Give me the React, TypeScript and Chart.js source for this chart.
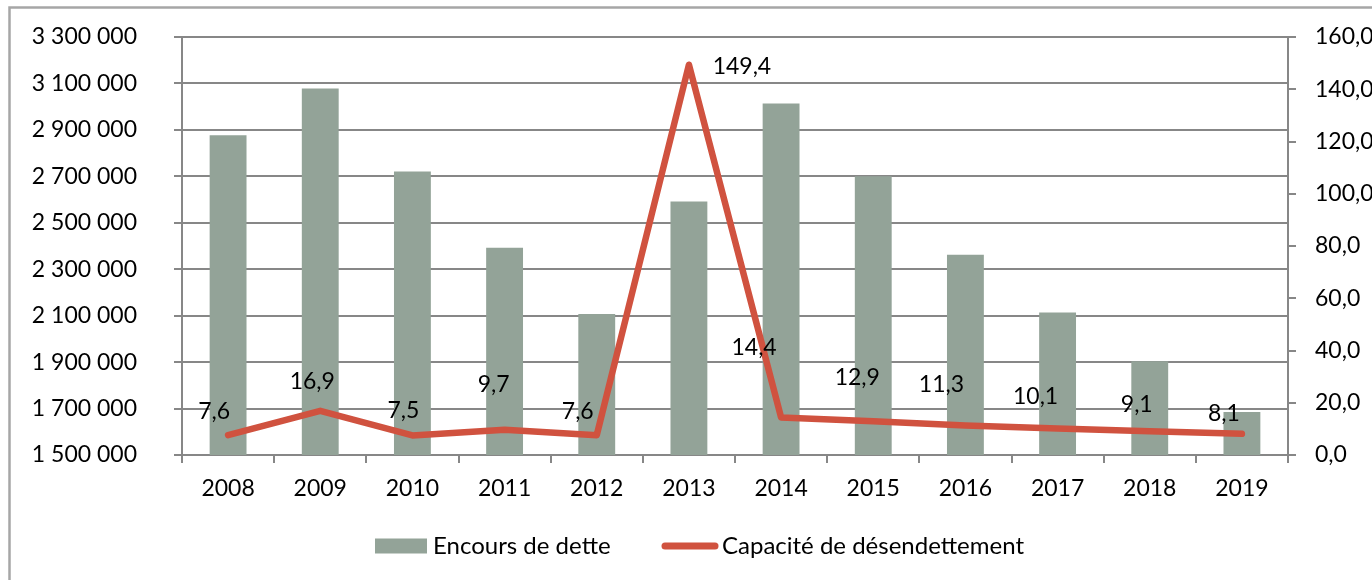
import React, { useEffect, useRef } from "react";
import { Chart, registerables } from "chart.js";

Chart.register(...registerables);

const years = ["2008", "2009", "2010", "2011", "2012", "2013", "2014", "2015", "2016", "2017", "2018", "2019"];
const encoursDette = [2877000, 3078000, 2721000, 2392000, 2107000, 2592000, 3014000, 2700000, 2362000, 2114000, 1904000, 1685000];
const capaciteDesendettement = [7.6, 16.9, 7.5, 9.7, 7.6, 149.4, 14.4, 12.9, 11.3, 10.1, 9.1, 8.1];
const leftAxis = { min: 1500000, max: 3300000, step: 200000 };
const rightAxis = { min: 0, max: 160, step: 20 };
const seriesNames = ["Encours de dette", "Capacité de désendettement"];

// label placement offsets (px) relative to each line point
const labelOffsets: [number, number][] = [
  [-14, -24], [-8, -29], [-9, -25], [-11, -45], [-19, -24], [53, 2],
  [-27, -70], [-16, -44], [-24, -41], [-22, -32], [-13, -27], [-18, -20],
];

const FONT = "Lato, 'Open Sans', sans-serif";
const BAR_COLOR = "#93A398";
const LINE_COLOR = "#D0523F";
const GRID_COLOR = "#878787";
const FRAME_COLOR = "#A6A6A6";

const fmtLeft = (v: number) => String(Math.round(v)).replace(/\B(?=(\d{3})+(?!\d))/g, " ");
const fmtRight = (v: number) => v.toFixed(1).replace(".", ",");

const framePlugin = {
  id: "frame",
  beforeDraw(chart: any) {
    const ctx = chart.ctx;
    ctx.save();
    ctx.fillStyle = "#ffffff";
    ctx.fillRect(0, 0, chart.width, chart.height);
    ctx.strokeStyle = FRAME_COLOR;
    ctx.lineWidth = 2.5;
    ctx.strokeRect(9.5, 7.5, chart.width + 50, chart.height + 50);
    ctx.restore();
  },
};

const labelPlugin = {
  id: "lineLabels",
  afterDatasetsDraw(chart: any) {
    const ctx = chart.ctx;
    const meta = chart.getDatasetMeta(1);
    ctx.save();
    ctx.font = `23px ${FONT}`;
    ctx.fillStyle = "#000000";
    ctx.textAlign = "center";
    ctx.textBaseline = "middle";
    meta.data.forEach((pt: any, i: number) => {
      const [dx, dy] = labelOffsets[i];
      ctx.fillText(fmtRight(capaciteDesendettement[i]), pt.x + dx, pt.y + dy);
    });
    ctx.restore();
  },
};

const legendPlugin = {
  id: "customLegend",
  afterDraw(chart: any) {
    const ctx = chart.ctx;
    ctx.save();
    ctx.font = `24px ${FONT}`;
    ctx.textBaseline = "middle";
    ctx.textAlign = "left";
    const y = 546;
    ctx.fillStyle = BAR_COLOR;
    ctx.fillRect(375, 538.5, 52, 15);
    ctx.fillStyle = "#000000";
    ctx.fillText(seriesNames[0], 433, y);
    ctx.strokeStyle = LINE_COLOR;
    ctx.lineWidth = 7;
    ctx.lineCap = "round";
    ctx.beginPath();
    ctx.moveTo(665, y);
    ctx.lineTo(715, y);
    ctx.stroke();
    ctx.fillText(seriesNames[1], 722, y);
    ctx.restore();
  },
};

export default function App() {
  const ref = useRef<HTMLCanvasElement>(null);
  useEffect(() => {
    if (!ref.current) return;
    const chart = new Chart(ref.current, {
      type: "bar",
      data: {
        labels: years,
        datasets: [
          {
            type: "bar",
            label: seriesNames[0],
            data: encoursDette,
            backgroundColor: BAR_COLOR,
            yAxisID: "y",
            barPercentage: 0.4,
            categoryPercentage: 1,
            order: 1,
          },
          {
            type: "line",
            label: seriesNames[1],
            data: capaciteDesendettement,
            borderColor: LINE_COLOR,
            backgroundColor: LINE_COLOR,
            borderWidth: 6.5,
            borderCapStyle: "round",
            borderJoinStyle: "round",
            pointRadius: 0,
            tension: 0,
            yAxisID: "y1",
            order: 0,
          },
        ],
      } as any,
      options: {
        responsive: false,
        animation: false,
        layout: { padding: { top: 37, left: 0, right: 0, bottom: 0 } },
        plugins: { legend: { display: false }, tooltip: { enabled: false } },
        scales: {
          x: {
            offset: true,
            grid: { drawOnChartArea: false, color: GRID_COLOR, lineWidth: 2, tickLength: 8, offset: true },
            border: { color: GRID_COLOR, width: 2 },
            ticks: { color: "#000", font: { family: FONT, size: 23 }, padding: 12, maxRotation: 0 },
            afterFit: (s: any) => { s.height = 125; s.paddingLeft = 0; s.paddingRight = 0; },
          },
          y: {
            position: "left",
            min: leftAxis.min,
            max: leftAxis.max,
            grid: { color: GRID_COLOR, lineWidth: 2, tickLength: 8 },
            border: { color: GRID_COLOR, width: 2 },
            ticks: {
              stepSize: leftAxis.step,
              color: "#000",
              font: { family: FONT, size: 23 },
              padding: 37,
              callback: (v: any) => fmtLeft(Number(v)),
            },
            afterFit: (s: any) => { s.width = 182; s.paddingTop = 0; s.paddingBottom = 0; },
          },
          y1: {
            position: "right",
            min: rightAxis.min,
            max: rightAxis.max,
            grid: { drawOnChartArea: false, color: GRID_COLOR, lineWidth: 2, tickLength: 8 },
            border: { color: GRID_COLOR, width: 2 },
            ticks: {
              stepSize: rightAxis.step,
              color: "#000",
              font: { family: FONT, size: 23 },
              padding: 19,
              callback: (v: any) => fmtRight(Number(v)),
            },
            afterFit: (s: any) => { s.width = 84; s.paddingTop = 0; s.paddingBottom = 0; },
          },
        },
      } as any,
      plugins: [framePlugin, labelPlugin, legendPlugin],
    });
    return () => chart.destroy();
  }, []);
  return (
    <div style={{ position: "absolute", left: 0, top: 0, width: 1372, height: 580 }}>
      <canvas ref={ref} width={1372} height={580} style={{ display: "block" }} />
    </div>
  );
}
